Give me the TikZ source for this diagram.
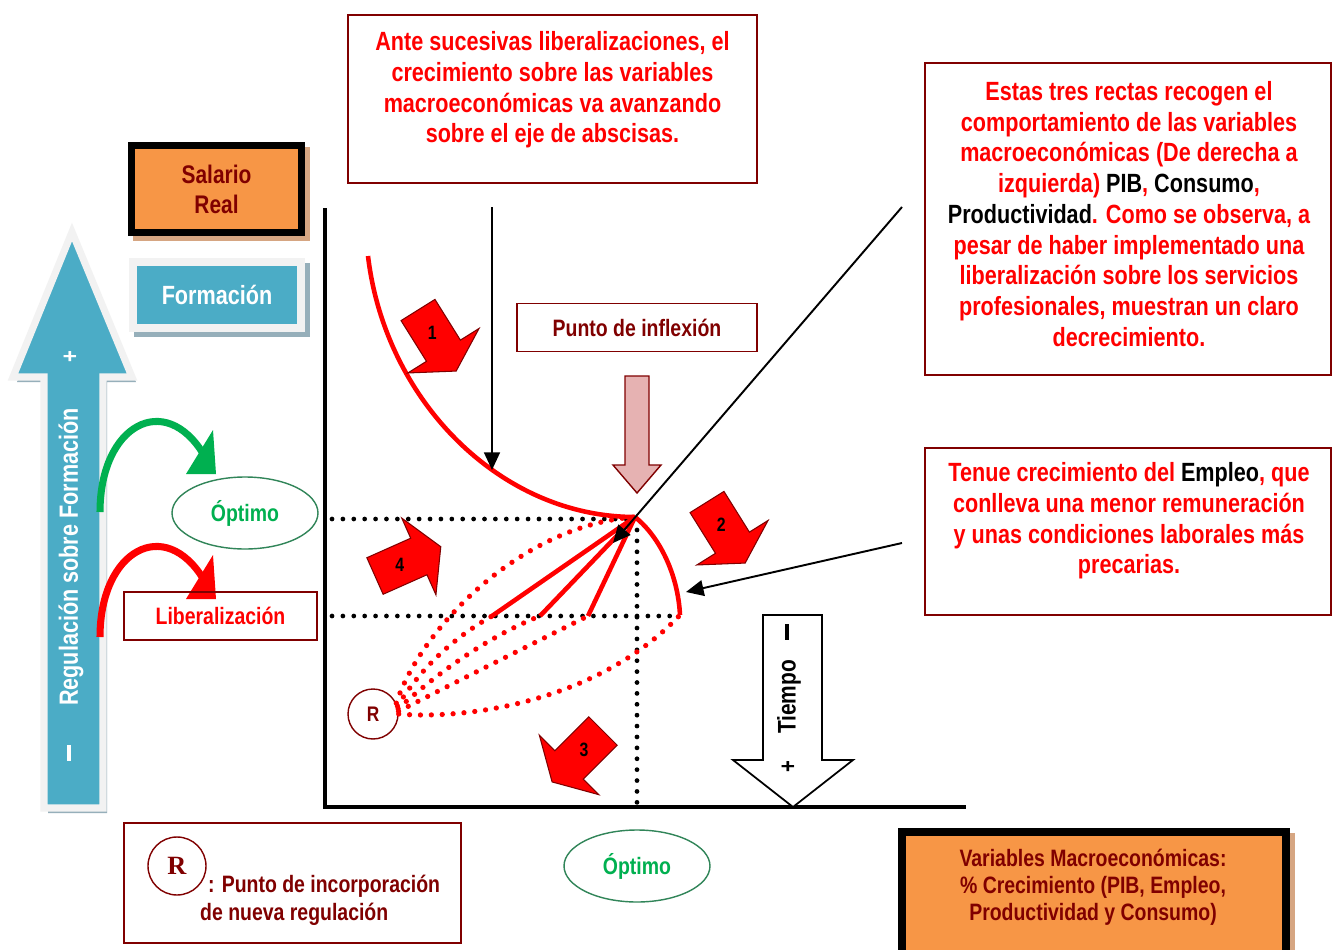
\documentclass[tikz,border=0pt]{standalone}
\usepackage{fontspec}
\setmainfont{Liberation Sans}[FakeStretch=0.82]
\newfontfamily\serifR{Liberation Serif}
\usepackage{xcolor}
\usetikzlibrary{arrows.meta,positioning,calc,shapes.geometric,backgrounds}

\definecolor{maroonline}{RGB}{128,0,0}
\definecolor{textred}{RGB}{255,0,0}
\definecolor{optgreen}{RGB}{0,176,80}
\definecolor{ovalgreen}{RGB}{49,133,89}
\definecolor{tealblue}{RGB}{75,172,198}
\definecolor{boxorange}{RGB}{247,150,70}
\definecolor{tanshadow}{RGB}{214,166,130}
\definecolor{greyshadow}{RGB}{150,175,186}
\definecolor{framegrey}{RGB}{242,242,242}
\definecolor{pinkfill}{RGB}{230,178,178}

\newcommand{\minusbar}{\rule[2.6pt]{9pt}{2.2pt}}

\begin{document}
\begin{tikzpicture}[x=0.02cm, y=-0.02cm,
    notebox/.style={rectangle, draw=maroonline, line width=0.9pt},
    notetext/.style={text=textred, font=\bfseries\fontsize{15}{17.5}\selectfont, align=center, inner sep=0pt},
    darktext/.style={text=maroonline, font=\bfseries\fontsize{13.5}{15.5}\selectfont, align=center},
    optimo/.style={ellipse, draw=ovalgreen, line width=0.8pt, text=optgreen, font=\bfseries\fontsize{13.5}{15}\selectfont, minimum width=2.92cm, minimum height=1.44cm, inner sep=0pt},
    redcurve/.style={textred, line width=2.6pt},
    reddots/.style={textred, line width=3pt, line cap=round, dash pattern=on 0pt off 6.2pt},
    blackdots/.style={black, line width=2.7pt, line cap=round, dash pattern=on 0pt off 6.2pt},
    pointer/.style={-{Triangle[length=10pt,width=9pt]}, line width=1.1pt},
    axis/.style={line width=2.3pt},
    blockarrow/.style={fill=textred, draw=maroonline, line width=0.6pt, line join=miter},
    numlabel/.style={font=\bfseries\fontsize{11}{12}\selectfont, inner sep=0pt},
    curvearrow/.style={line width=4pt}
]
\useasboundingbox (0,0) rectangle (1333,950);
\begin{scope}[on background layer]
    \fill[white] (0,0) rectangle (1333,950);
\end{scope}

% Left big arrow
\fill[greyshadow] (76,237) -- (136,382) -- (107,382) -- (107,813) -- (48,813) -- (48,382) -- (17,382) -- cycle;
\draw[draw=framegrey, fill=tealblue, line width=4pt, line join=miter] (72,232) -- (132,377) -- (103,377) -- (103,808) -- (44,808) -- (44,377) -- (13,377) -- cycle;
\node[rotate=90, text=white, font=\bfseries\fontsize{15}{17}\selectfont] (regtext) at (71,557) {Regulación sobre Formación};
\node[rotate=90, text=white, font=\bfseries\fontsize{14}{16}\selectfont] (regplus) at (71,357) {+};
\node[rotate=90, text=white, inner sep=0pt] (regminus) at (71,753) {\minusbar};

% Salario Real and Formacion
\node[draw=black, line width=4pt, fill=boxorange, minimum width=3.4cm, minimum height=1.74cm, text=maroonline, font=\bfseries\fontsize{14.5}{17}\selectfont, align=center] (salario) at (216.5,189) {Salario\\Real};
\node[draw=framegrey, line width=4.5pt, fill=tealblue, minimum width=3.36cm, minimum height=1.31cm, text=white, font=\bfseries\fontsize{15}{17}\selectfont] (formacion) at (217,295) {Formación};
\begin{scope}[on background layer]
    \fill[tanshadow] ([shift={(5,5)}]salario.north west) rectangle ([shift={(5,5)}]salario.south east);
    \fill[greyshadow] ([shift={(5,5)}]formacion.north west) rectangle ([shift={(5,5)}]formacion.south east);
\end{scope}

% Curved arrows
\coordinate (gstart) at (100,512);
\coordinate (gend) at (204,455);
\draw[curvearrow, optgreen] (gstart) .. controls (100,425) and (165,390) .. (gend);
\fill[optgreen] (186,474) -- (216,474) -- (213,430) -- cycle;
\coordinate (rstart) at (100,637);
\coordinate (rend) at (204,580);
\draw[curvearrow, textred] (rstart) .. controls (100,550) and (165,515) .. (rend);
\fill[textred] (186,599) -- (216,599) -- (213,555) -- cycle;

\node[optimo] (optleft) at (245,513) {Óptimo};
\node[notebox, minimum width=3.86cm, minimum height=0.96cm, text=textred, font=\bfseries\fontsize{13.5}{15}\selectfont] (liberal) at (220.5,616) {Liberalización};

% Axes
\coordinate (origin) at (325,807);
\coordinate (ytop) at (325,208);
\coordinate (xend) at (966,807);
\draw[axis] (ytop) -- (origin) -- (xend);

% Dotted guides
\coordinate (infl) at (635,517);
\coordinate (arcend) at (680,615);
\coordinate (l1) at (492,616);
\coordinate (l2) at (540,616);
\coordinate (l3) at (588,616);
\draw[blackdots] (332,519) -- (630,519);
\draw[blackdots] (332,616) -- (680,616);
\draw[blackdots] (637,530) -- (637,805);

% Curves
\draw[redcurve] (368,256) .. controls (385,400) and (500,517) .. (infl);
\draw[redcurve] (infl) .. controls (660,537) and (678,575) .. (arcend);
\foreach \p in {l1,l2,l3}
    \draw[redcurve] (infl) -- (\p);

\node[circle, draw=maroonline, line width=0.8pt, minimum size=1cm, text=maroonline, font=\bfseries\fontsize{12}{13}\selectfont] (regR) at (373,714) {R};
\draw[reddots] (regR.25) .. controls (420,630) and (520,525) .. (infl);
\draw[reddots] (regR.18) .. controls (420,670) and (450,640) .. (l1);
\draw[reddots] (regR.12) .. controls (430,680) and (480,640) .. (l2);
\draw[reddots] (regR.6) .. controls (440,690) and (520,650) .. (l3);
\draw[reddots] (regR.0) .. controls (470,720) and (600,700) .. (arcend);

% Numbered arrows
\foreach \tx/\ty/\ang/\num in {418/310/-58/1, 707/502/-58/2, 603/731/-135/3, 375/576/24/4} {
    \begin{scope}[shift={(\tx,\ty)}, rotate=\ang]
        \draw[blockarrow] (0,-20) -- (48,-20) -- (48,-42) -- (72,0) -- (48,42) -- (48,20) -- (0,20) -- cycle;
        \node[numlabel] (num\num) at (27,0) {\num};
    \end{scope}
}

% Top note
\node[notebox, minimum width=8.18cm, minimum height=3.36cm] (topbox) at (552.5,99) {};
\node[notetext] (toptext) at (552.5,90) {Ante sucesivas liberalizaciones, el\\crecimiento sobre las variables\\macroeconómicas va avanzando\\sobre el eje de abscisas.};
\coordinate (downstart) at (492,207);
\coordinate (downend) at (492,470);
\draw[pointer] (downstart) -- (downend);

% Punto de inflexion
\node[notebox, minimum width=4.8cm, minimum height=0.96cm, darktext] (inflbox) at (637,327.5) {Punto de inflexión};
\draw[draw=maroonline, fill=pinkfill, line width=0.8pt] (625,376) -- (649,376) -- (649,465) -- (661,465) -- (637,493) -- (613,465) -- (625,465) -- cycle;

% Right notes
\node[notebox, minimum width=8.12cm, minimum height=6.24cm] (rightbox) at (1128,219) {};
\node[notetext] (righttext) at (1129,214) {Estas tres rectas recogen el\\comportamiento de las variables\\macroeconómicas (De derecha a\\izquierda) \textcolor{black}{PIB}, \textcolor{black}{Consumo},\\\textcolor{black}{Productividad}. Como se observa, a\\pesar de haber implementado una\\liberalización sobre los servicios\\profesionales, muestran un claro\\decrecimiento.};
\coordinate (diagstart) at (902,207);
\coordinate (diagend) at (613,543);
\draw[pointer] (diagstart) -- (diagend);

\node[notebox, minimum width=8.12cm, minimum height=3.34cm] (empbox) at (1128,531.5) {};
\node[notetext] (emptext) at (1129,521) {Tenue crecimiento del \textcolor{black}{Empleo}, que\\conlleva una menor remuneración\\y unas condiciones laborales más\\precarias.};
\coordinate (empstart) at (902,543);
\coordinate (empend) at (686,592);
\draw[pointer] (empstart) -- (empend);

% Tiempo arrow
\draw[fill=white, line width=1pt] (763,615) -- (822,615) -- (822,760) -- (853,760) -- (793,807) -- (733,760) -- (763,760) -- cycle;
\node[rotate=90, font=\bfseries\fontsize{14.5}{16}\selectfont] (tiempo) at (789,697) {Tiempo};
\node[rotate=90, inner sep=0pt] (tminus) at (789,632) {\minusbar};
\node[rotate=90, font=\bfseries\fontsize{14}{16}\selectfont] (tplus) at (789,767) {+};

% Legend
\node[notebox, minimum width=6.74cm, minimum height=2.4cm] (legbox) at (292.5,883) {};
\node[circle, draw=maroonline, line width=0.8pt, minimum size=1.16cm, text=maroonline, font=\serifR\bfseries\fontsize{15}{16}\selectfont] (legR) at (177,866) {R};
\node[darktext, align=left, anchor=west, font=\bfseries\fontsize{13.5}{16}\selectfont] (legtext) at (194,900) {\hspace*{4.5pt}: Punto de incorporación\\de nueva regulación};

\node[optimo] (optbottom) at (637,866) {Óptimo};

% Variables box
\node[draw=black, line width=4.5pt, fill=boxorange, minimum width=7.68cm, minimum height=2.56cm] (varbox) at (1094,896) {};
\begin{scope}[on background layer]
    \fill[tanshadow] ([shift={(5,5)}]varbox.north west) rectangle ([shift={(5,5)}]varbox.south east);
\end{scope}
\node[darktext] (vartext) at (1093,887) {Variables Macroeconómicas:\\\% Crecimiento (PIB, Empleo,\\Productividad y Consumo)};
\end{tikzpicture}
\end{document}
